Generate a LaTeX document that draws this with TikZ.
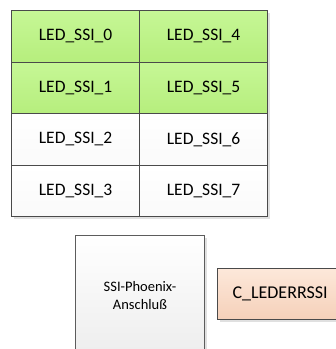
\documentclass[tikz,border=0pt]{standalone}
\usepackage{fontspec}
\setmainfont{Carlito}
\usetikzlibrary{shadows}
\definecolor{edge}{HTML}{4A4A4A}
\definecolor{greentop}{RGB}{198,247,150}
\definecolor{greenbot}{RGB}{182,238,125}
\definecolor{peachtop}{RGB}{253,232,218}
\definecolor{peachbot}{RGB}{245,208,185}
\tikzset{
  x=1pt, y=-1pt,
  softshadow/.style={drop shadow={shadow xshift=2.5pt, shadow yshift=-2.5pt, fill=black!12, opacity=1}},
  cellbase/.style={draw=edge, line width=1.2pt, minimum width=128pt, minimum height=51.5pt,
    inner sep=0pt, font=\fontsize{17.5}{20}\selectfont, anchor=north west, softshadow},
  greencell/.style={cellbase, top color=greentop, bottom color=greenbot},
  whitecell/.style={cellbase, top color=white, bottom color=black!2},
  plug/.style={draw=edge!90, line width=1pt, anchor=north west, minimum width=129pt, minimum height=120pt,
    top color=white, bottom color=black!7, inner sep=0pt,
    font=\fontsize{14.5}{17.5}\selectfont, align=center, softshadow},
  errbox/.style={draw=edge, line width=1.2pt, anchor=north west, minimum width=125pt, minimum height=51pt,
    top color=peachtop, bottom color=peachbot,
    inner sep=0pt, font=\fontsize{18}{21}\selectfont, softshadow}
}
\begin{document}
\begin{tikzpicture}
\useasboundingbox (0,0) rectangle (336,349);
\begin{scope}
\clip (0,0) rectangle (336,349);
% LED grid, two columns of four cells
\node[greencell] (c0) at (11,10)    {LED\_SSI\_0};
\node[greencell] (c1) at (11,61.5)  {LED\_SSI\_1};
\node[whitecell] (c2) at (11,113)   {LED\_SSI\_2};
\node[whitecell] (c3) at (11,164.5) {LED\_SSI\_3};
\node[greencell] (c4) at (139,10)    {LED\_SSI\_4};
\node[greencell] (c5) at (139,61.5)  {LED\_SSI\_5};
\node[whitecell] (c6) at (139,113)   {LED\_SSI\_6};
\node[whitecell] (c7) at (139,164.5) {LED\_SSI\_7};
% connector block and error LED
\node[plug] (plug) at (75,235) {SSI-Phoenix-\\Anschluß};
\node[errbox] (err) at (217,268) {C\_LEDERRSSI};
\end{scope}
\end{tikzpicture}
\end{document}
